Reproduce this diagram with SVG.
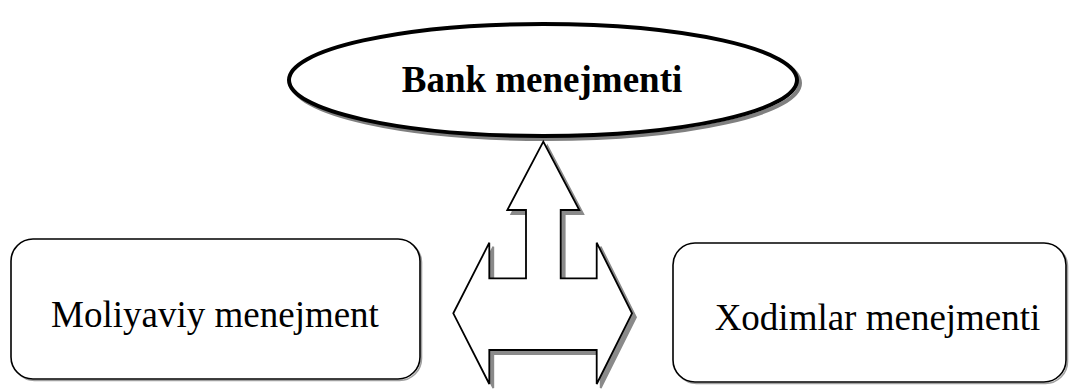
<svg xmlns="http://www.w3.org/2000/svg" width="1070" height="390" viewBox="0 0 1070 390">
  <style>
    .lbl { font-family: "Liberation Serif", "Times New Roman", serif; font-size: 37px; fill: #000; }
    .bold { font-weight: bold; }
    .box { fill: #fff; stroke: #000; stroke-width: 1.6; }
    .boxsh { fill: none; stroke: #a0a0a0; stroke-width: 1.6; }
    .arrow { fill: #fff; stroke: #000; stroke-width: 1.8; stroke-linejoin: miter; }
    .arrowsh { fill: #8a8a8a; stroke: #8a8a8a; stroke-width: 1.8; }
  </style>
  <rect width="1070" height="390" fill="#fff"/>

  <g id="bank-menejmenti">
    <ellipse cx="546" cy="83" rx="254" ry="56" fill="none" stroke="#808080" stroke-width="4"/>
    <ellipse cx="543" cy="80" rx="254" ry="56" fill="#fff" stroke="#000" stroke-width="4"/>
    <text class="lbl bold" x="542" y="92" text-anchor="middle">Bank menejmenti</text>
  </g>

  <g id="connectors">
    <polygon class="arrowsh" transform="translate(4,4)" points="543.3,141.7 579.3,210 560.7,210 560.7,278.3 596.7,278.3 596.7,242.7 632,313.3 596.7,384 596.7,350 489.3,350 489.3,384 453.3,313.3 489.3,242.7 489.3,278.3 526,278.3 526,210 507.3,210"/>
    <polygon class="arrow" points="543.3,141.7 579.3,210 560.7,210 560.7,278.3 596.7,278.3 596.7,242.7 632,313.3 596.7,384 596.7,350 489.3,350 489.3,384 453.3,313.3 489.3,242.7 489.3,278.3 526,278.3 526,210 507.3,210"/>
  </g>

  <g id="moliyaviy-menejment">
    <rect class="boxsh" x="12.5" y="240.5" width="409" height="140" rx="22"/>
    <rect class="box" x="11" y="239" width="409" height="140" rx="22"/>
    <text class="lbl" x="215" y="327" text-anchor="middle">Moliyaviy menejment</text>
  </g>

  <g id="xodimlar-menejmenti">
    <rect class="boxsh" x="674.5" y="244.5" width="393" height="139" rx="22"/>
    <rect class="box" x="673" y="243" width="393" height="139" rx="22"/>
    <text class="lbl" x="877.5" y="330" text-anchor="middle">Xodimlar menejmenti</text>
  </g>
</svg>
